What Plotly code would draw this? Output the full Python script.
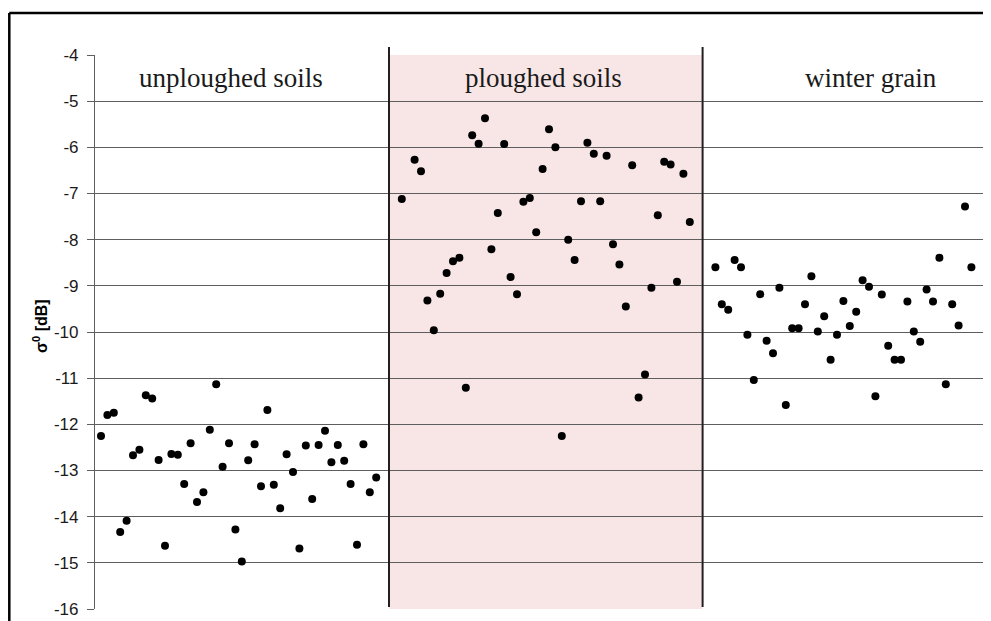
import plotly.graph_objects as go

# sample positions (measurement number along the track)
unploughed_x = list(range(0, 44))
ploughed_x = [47] + list(range(49, 93))
winter_x = list(range(96, 137))

unploughed_y = [-12.25, -11.80, -11.75, -14.33, -14.09, -12.67, -12.55, -11.37, -11.44, -12.77,
                -14.63, -12.64, -12.66, -13.29, -12.41, -13.68, -13.47, -12.12, -11.13, -12.92,
                -12.41, -14.28, -14.97, -12.78, -12.43, -13.34, -11.69, -13.31, -13.82, -12.65,
                -13.03, -14.69, -12.46, -13.62, -12.45, -12.14, -12.82, -12.45, -12.79, -13.29,
                -14.61, -12.43, -13.47, -13.15]
ploughed_y = [-7.12, -6.27, -6.52, -9.32, -9.96, -9.17, -8.72, -8.47, -8.39, -11.21,
              -5.74, -5.92, -5.37, -8.21, -7.42, -5.93, -8.81, -9.18, -7.18, -7.10,
              -7.84, -6.47, -5.61, -6.00, -12.25, -8.00, -8.44, -7.17, -5.90, -6.14,
              -7.17, -6.18, -8.10, -8.54, -9.45, -6.39, -11.42, -10.92, -9.04, -7.47,
              -6.31, -6.37, -8.91, -6.57, -7.62]
winter_y = [-8.60, -9.40, -9.52, -8.44, -8.60, -10.06, -11.04, -9.18, -10.19, -10.46,
            -9.04, -11.58, -9.92, -9.92, -9.40, -8.79, -9.99, -9.66, -10.60, -10.06,
            -9.33, -9.87, -9.56, -8.88, -9.02, -11.39, -9.19, -10.30, -10.60, -10.60,
            -9.34, -9.99, -10.21, -9.08, -9.34, -8.39, -11.13, -9.40, -9.86, -7.28,
            -8.60]

group_labels = ["unploughed soils", "ploughed soils", "winter grain"]
group_bounds = [45, 94]  # dividers between groups (sample positions)
y_ticks = [-16, -15, -14, -13, -12, -11, -10, -9, -8, -7, -6, -5, -4]
y_title = "σ<sup>0</sup> [dB]"

# page has an 8px body margin, so figure is placed at (8, 8)
OFF = 8
W, H = 991 - OFF, 621 - OFF
L, T = 95 - OFF, 55 - OFF
R = 0
B = H - (609 - OFF)
pw, ph = W - L - R, H - T - B


def px_x(page_x):
    return (page_x - OFF - L) / pw


def px_y(page_y):
    return 1 - (page_y - OFF - T) / ph


fig = go.Figure()
for xs, ys, name in [(unploughed_x, unploughed_y, group_labels[0]),
                     (ploughed_x, ploughed_y, group_labels[1]),
                     (winter_x, winter_y, group_labels[2])]:
    fig.add_trace(go.Scatter(x=xs, y=ys, mode="markers", name=name,
                             marker=dict(color="black", size=8), showlegend=False))

# pink shaded region
fig.add_shape(type="rect", xref="x", yref="y", x0=group_bounds[0], x1=group_bounds[1],
              y0=y_ticks[0], y1=y_ticks[-1], fillcolor="#f8e6e7", line_width=0, layer="below")

# divider lines
for xb in group_bounds:
    fig.add_shape(type="line", xref="x", yref="paper", x0=xb, x1=xb,
                  y0=px_y(607), y1=px_y(47),
                  line=dict(color="#231f20", width=2))

# outer frame (top and left edges)
fx = px_x(9.3)
fy = px_y(13)
fig.add_shape(type="line", xref="paper", yref="paper", x0=fx, x1=1.01, y0=fy, y1=fy,
              line=dict(color="black", width=2.5))
fig.add_shape(type="line", xref="paper", yref="paper", x0=fx, x1=fx, y0=-0.05, y1=fy,
              line=dict(color="black", width=2.5))

# group labels
label_x = [20.3, 69.1, 120.3]
for lx, txt in zip(label_x, group_labels):
    fig.add_annotation(x=lx, y=-4.5, xref="x", yref="y", text=txt, showarrow=False,
                       font=dict(family="Liberation Serif", size=27, color="#1a1a1a"))

# y-axis title
fig.add_annotation(x=px_x(28), y=px_y(326), xref="paper", yref="paper",
                   text=y_title, textangle=-90, showarrow=False,
                   font=dict(family="Liberation Sans", size=16, color="black", weight="bold"))

x_lo = (95 - 101) / 6.4
x_hi = (991 - 101) / 6.4
fig.update_xaxes(range=[x_lo, x_hi], showgrid=False, zeroline=False, showticklabels=False,
                 ticks="", showline=False)
fig.update_yaxes(range=[y_ticks[0], y_ticks[-1]], tickvals=y_ticks,
                 ticktext=[str(v) for v in y_ticks],
                 showgrid=True, gridcolor="#5e5e5e", gridwidth=1.2, zeroline=False,
                 showline=True, linecolor="#5e5e5e", linewidth=1.2,
                 ticks="outside", ticklen=7, tickcolor="#5e5e5e", tickwidth=1.2,
                 ticklabelstandoff=5,
                 tickfont=dict(family="Liberation Sans", size=17, color="#1a1a1a"))

fig.update_layout(width=W, height=H, margin=dict(l=L, r=R, t=T, b=B, autoexpand=False),
                  plot_bgcolor="white", paper_bgcolor="white")

fig.write_html("out.html")
